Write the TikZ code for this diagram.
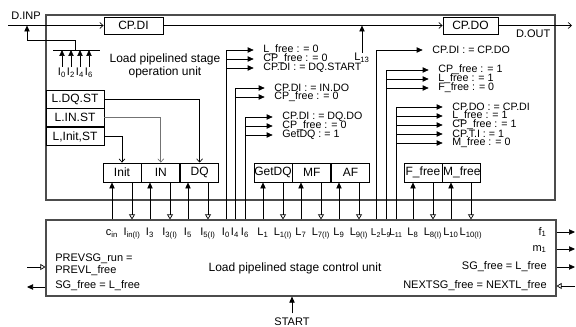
\documentclass[tikz,border=0pt]{standalone}
\usepackage{fontspec}
\setmainfont{Liberation Sans}
\usetikzlibrary{arrows.meta,positioning}

\begin{document}
\begin{tikzpicture}[x=0.75pt,y=-0.75pt,
		font=\fontsize{8.25}{9}\selectfont,
		line width=0.5pt,
		unit/.style={draw=black!70, line width=0.9pt, inner sep=0pt},
		blk/.style={draw, line width=0.6pt, inner sep=0pt, minimum height=14.25pt, font=\fontsize{9}{10}\selectfont},
		lbox/.style={blk, minimum width=43.5pt, minimum height=13.5pt},
		sbox/.style={blk, minimum width=28.5pt},
		sig/.style={inner sep=0pt},
		act/.style={sig, anchor=west, font=\fontsize{8}{8}\selectfont},
		fa/.style={-{Triangle[length=4.5pt,width=4pt]}},
		toact/.style={fa, shorten >=7pt},
		ot/.style={-{Triangle[open,length=3.75pt,width=4.5pt]}},
		ob/.style={-{Straight Barb[length=2.5pt,width=4.5pt]}},
		gr/.style={draw=black!55}]
		\useasboundingbox (0,0) rectangle (576,327);

		% Units
		\node[unit, minimum width=381.75pt, minimum height=138.75pt] (opu) at (300.5,107.5) {};
		\node[unit, minimum width=382.5pt, minimum height=57pt] (ctrl) at (301,258) {};
		\node[align=center, font=\fontsize{9}{9.75}\selectfont] (opname) at (165,66) {Load pipelined stage\\operation unit};
		\node[font=\fontsize{9}{10}\selectfont] (ctrlname) at (295,268) {Load pipelined stage control unit};

		% Data path
		\node (dinp) at (26,16) {D.INP};
		\node[anchor=east] (dout) at (555,34) {D.OUT};
		\node[blk, minimum width=44.25pt, minimum height=12.75pt] (cpdi) at (133.5,25.5) {CP.DI};
		\node[blk, minimum width=41.25pt, minimum height=12.75pt] (cpdo) at (470.5,25.5) {CP.DO};
		\coordinate (din) at (8,25.5);
		\coordinate (dend) at (572,25.5);
		\coordinate (tap) at (27,25.5);
		\draw[ob] (din) -- (cpdi);
		\draw[ob] (cpdi) -- (cpdo);
		\draw[ob] (cpdo) -- (dend);

		% I bus
		\coordinate (busL) at (53,50);
		\coordinate (busR) at (100,50);
		\coordinate (busM) at (75,50);
		\draw (busL) -- (busR);
		\draw[fa] (busM) -- ++(0,-10) -| (tap);
		\foreach \n/\x in {0/62,2/71,4/80,6/89}{
			\node[sig] (ia\n) at (\x,73) {I\textsubscript{\n}};
			\draw[fa, shorten <=1pt] (ia\n.north) -- (ia\n.north |- busL);
		}

		\node[sig] (l13) at (362,58) {L\textsubscript{13}};
		\draw[fa] (l13.north) -- (l13 |- cpdi);

		% Stage registers
		\node[lbox] (ldq) at (75,99) {L.DQ.ST};
		\node[lbox, below=0pt of ldq] (lin) {L.IN.ST};
		\node[lbox, below=0pt of lin] (linit) {L,Init,ST};

		\node[sbox] (init) at (122,172.5) {Init};
		\node[sbox, right=0pt of init] (inb) {IN};
		\node[sbox, right=0pt of inb] (dq) {DQ};
		\node[sbox] (getdq) at (273,172.5) {GetDQ};
		\node[sbox, right=0pt of getdq] (mf) {MF};
		\node[sbox, right=0pt of mf] (af) {AF};
		\node[sbox] (ffree) at (423,172.5) {F\_free};
		\node[sbox, right=0pt of ffree] (mfree) {M\_free};

		\draw[ob] (ldq.east) -| (dq.north);
		\draw[ob, gr] (lin.east) -| (inb.north);
		\draw[ob] (linit.east) -| (init.north);

		% Signals of the control unit
		\foreach \nm/\x/\t in {cin/112/c\textsubscript{in}, iin/132/I\textsubscript{in(I)},
			i3/150/I\textsubscript{3}, i3i/170/I\textsubscript{3(I)}, i5/188/I\textsubscript{5}, i5i/208/I\textsubscript{5(I)},
			i0/226/I\textsubscript{0}, i4/235/I\textsubscript{4}, i6/245/I\textsubscript{6},
			l1/263/L\textsubscript{1}, l1i/283/L\textsubscript{1(I)}, l7/301/L\textsubscript{7}, l7i/321/L\textsubscript{7(I)},
			l9/339/L\textsubscript{9}, l9i/359/L\textsubscript{9(I)},
			l8/413/L\textsubscript{8}, l8i/433/L\textsubscript{8(I)}, l10/451/L\textsubscript{10}, l10i/471/L\textsubscript{10(I)}}{
			\node[sig, anchor=base] (\nm) at (\x,236) {\t};
		}
		\foreach \nm/\x/\t in {l2/376/L\textsubscript{2}, l9b/386/L\textsubscript{9}, l11/396/L\textsubscript{11}}{
			\node[sig, anchor=base, font=\fontsize{7.5}{8}\selectfont] (\nm) at (\x,236) {\t};
		}

		\foreach \b/\u/\d in {init/cin/iin, inb/i3/i3i, dq/i5/i5i, getdq/l1/l1i, mf/l7/l7i, af/l9/l9i, ffree/l8/l8i, mfree/l10/l10i}{
			\draw[fa] (\u |- ctrl.north) -- (\u |- \b.south);
			\draw[ot] (\d |- \b.south) -- (\d |- ctrl.north);
		}

		% Actions
		\foreach \n/\y/\t in {1/50/L\_free : = 0, 2/59/CP\_free : = 0, 3/68/CP.DI : = DQ.START}{
			\node[act] (a\n) at (263,\y) {\t};
			\draw[toact] (i0 |- a\n) -- (a\n.west);
		}
		\draw (i0 |- ctrl.north) -- (i0 |- a1);

		\foreach \n/\y/\t in {1/88/CP.DI : = IN.DO, 2/97/CP\_free : = 0}{
			\node[act] (b\n) at (274,\y) {\t};
			\draw[toact] (i4 |- b\n) -- (b\n.west);
		}
		\draw (i4 |- ctrl.north) -- (i4 |- b1);

		\foreach \n/\y/\t in {1/117/CP.DI : = DQ.DO, 2/126/CP\_free : = 0, 3/135/GetDQ : = 1}{
			\node[act] (c\n) at (282,\y) {\t};
			\draw[toact] (i6 |- c\n) -- (c\n.west);
		}
		\draw (i6 |- ctrl.north) -- (i6 |- c1);

		\node[act] (d1) at (432,50) {CP.DI : = CP.DO};
		\draw[toact] (l2 |- ctrl.north) |- (d1.west);

		\foreach \n/\y/\t in {1/70/CP\_free : = 1, 2/79/L\_free : = 1, 3/88/F\_free : = 0}{
			\node[act] (e\n) at (438,\y) {\t};
			\draw[toact] (l9b |- e\n) -- (e\n.west);
		}
		\draw (l9b |- ctrl.north) -- (l9b |- e1);

		\foreach \n/\y/\t in {1/107/CP.DO : = CP.DI, 2/116/L\_free : = 1, 3/125/CP\_free : = 1, 4/134/CP.T.I : = 1, 5/143/M\_free : = 0}{
			\node[act] (f\n) at (452,\y) {\t};
			\draw[toact] (l11 |- f\n) -- (f\n.west);
		}
		\draw (l11 |- ctrl.north) -- (l11 |- f1);

		% Control unit ports
		\node[sig, anchor=west] (prevrun) at (55,259) {PREVSG\_run =};
		\node[sig, anchor=west] (prevl) at (55,271) {PREVL\_free};
		\node[sig, anchor=west] (sgl) at (55,286) {SG\_free = L\_free};
		\coordinate (pin) at (27,267);
		\coordinate (sgo) at (27,287);
		\draw[ot] (pin) -- (pin -| ctrl.west);
		\draw[fa] (sgo -| ctrl.west) -- (sgo);

		\node[sig, anchor=east] (fone) at (547,232) {f\textsubscript{1}};
		\node[sig, anchor=east] (mone) at (547,249) {m\textsubscript{1}};
		\node[sig, anchor=east] (sgr) at (547,267) {SG\_free = L\_free};
		\node[sig, anchor=east] (nxt) at (547,286) {NEXTSG\_free = NEXTL\_free};
		\coordinate (rim) at (575,0);
		\foreach \s in {fone,mone,sgr}
			\draw[fa] (\s -| ctrl.east) -- (\s -| rim);
		\draw[ot] (nxt -| rim) -- (nxt -| ctrl.east);

		\node (start) at (292,322) {START};
		\draw[fa] (start.north) -- (start |- ctrl.south);
	\end{tikzpicture}
\end{document}
